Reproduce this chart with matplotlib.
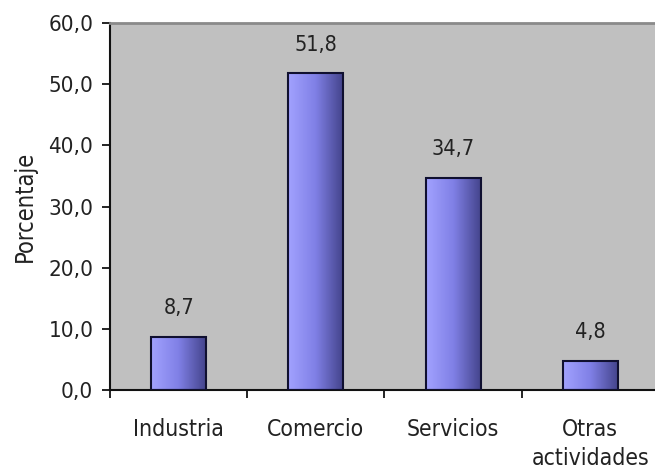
import matplotlib.pyplot as plt
import numpy as np
from matplotlib.ticker import FuncFormatter

categories = ["Industria", "Comercio", "Servicios", "Otras\nactividades"]
values = [8.7, 51.8, 34.7, 4.8]
value_labels = ["8,7", "51,8", "34,7", "4,8"]

plt.rcParams['font.family'] = ['DejaVu Sans']
plt.rcParams['font.stretch'] = 'condensed'
txt = "#222222"

fig = plt.figure(figsize=(6.55, 4.71), dpi=100)
ax = fig.add_axes([0.168, 0.172, 0.838, 0.779])
ax.set_facecolor("#c0c0c0")

x = np.arange(len(categories))
bars = ax.bar(x, values, width=0.4, color="none", edgecolor="#101030", linewidth=1.5, zorder=3)

# horizontal gradient inside each bar
grad = np.linspace(0, 1, 256).reshape(1, -1)
cmap = plt.matplotlib.colors.LinearSegmentedColormap.from_list(
    "bar", ["#a2a2ff", "#8080e6", "#44448c"])
for b in bars:
    x0, y0 = b.get_x(), b.get_y()
    im = ax.imshow(grad, cmap=cmap, aspect="auto", zorder=2,
                   extent=[x0, x0 + b.get_width(), y0, y0 + b.get_height()])
    im.set_clip_path(b)

for xi, v, lab in zip(x, values, value_labels):
    ax.text(xi, v + 3.0, lab, ha="center", va="bottom", fontsize=15.5, color=txt,
            fontstretch="condensed")

ax.set_xlim(-0.5, 3.5)
ax.set_ylim(0, 60)
ax.set_yticks(np.arange(0, 61, 10))
ax.yaxis.set_major_formatter(FuncFormatter(lambda v, p: ("%.1f" % v).replace(".", ",")))
ax.set_xticks(x)
ax.set_xticklabels(categories, fontsize=16.5, color=txt, linespacing=1.35,
                   fontstretch="condensed")
ax.set_xticks(np.arange(-0.5, 4, 1), minor=True)
ax.tick_params(axis="x", which="major", length=0, pad=20)
ax.tick_params(axis="x", which="minor", length=6, width=1.2, direction="out")
ax.tick_params(axis="y", length=6, width=1.2, labelsize=16, labelcolor=txt, pad=6)
for t in ax.get_yticklabels():
    t.set_fontstretch("condensed")
ax.set_ylabel("Porcentaje", fontsize=17, color=txt, labelpad=8, fontstretch="condensed")

ax.spines["left"].set_color("#111111")
ax.spines["left"].set_linewidth(1.5)
ax.spines["bottom"].set_color("#111111")
ax.spines["bottom"].set_linewidth(1.5)
ax.spines["top"].set_color("#8a8a8a")
ax.spines["top"].set_linewidth(2)
ax.spines["right"].set_visible(False)

fig.savefig("out.png", dpi=100)
